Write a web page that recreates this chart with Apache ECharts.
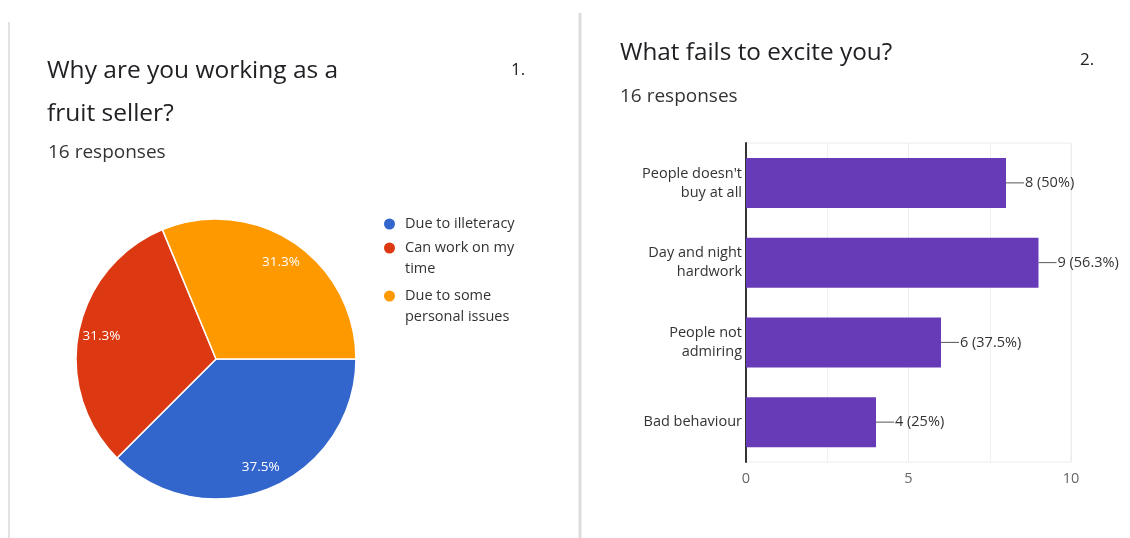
<!DOCTYPE html>
<html>
<head>
<meta charset="utf-8">
<script src="https://cdn.jsdelivr.net/npm/echarts@6/dist/echarts.min.js"></script>
<style>html,body{margin:0;padding:0;background:#fff}#c{width:1130px;height:538px}</style>
</head>
<body>
<div id="c"></div>
<script>
var pieNames = ["Due to illeteracy", "Can work on my time", "Due to some personal issues"];
var pieValues = [6, 5, 5];
var pieColors = ["#3366cc", "#dc3912", "#ff9900"];
var barCategories = ["People doesn't\nbuy at all", "Day and night\nhardwork", "People not\nadmiring", "Bad behaviour"];
var barValues = [8, 9, 6, 4];
var totalResponses = 16;
var xTicks = [0, 5, 10];

var chart = echarts.init(document.getElementById('c'));
var font = '"Open Sans", Roboto, sans-serif';
var pieCenter = [216, 359];
var small = 14.5;

function pct(v) {
  var p = Math.round(v / totalResponses * 1000) / 10;
  return p + '%';
}

function legendFor(i, top, multi) {
  return {
    data: [pieNames[i]],
    orient: 'vertical',
    left: 382,
    top: top,
    padding: 0,
    icon: 'circle',
    itemWidth: 13,
    itemHeight: 13,
    selectedMode: false,
    formatter: function (name) { return multi ? '\n' + name : name; },
    textStyle: { fontSize: small, color: '#333', width: 122, overflow: 'break', lineHeight: 21, fontFamily: font, padding: [0, 0, 0, 4] }
  };
}

var titleStyle = function (size, color, lh) {
  var s = { fontSize: size, fontWeight: 'normal', color: color, fontFamily: font };
  if (lh) s.lineHeight = lh;
  return s;
};

var option = {
  backgroundColor: '#fff',
  textStyle: { fontFamily: font },
  animation: false,
  title: [
    { text: 'Why are you working as a\nfruit seller?', left: 47, top: 50, padding: 0, textStyle: titleStyle(24.5, '#202124', 43) },
    { text: '1.', left: 511, top: 62, padding: 0, textStyle: titleStyle(17, '#202124') },
    { text: '16 responses', left: 48, top: 143, padding: 0, textStyle: titleStyle(19, '#333') },
    { text: 'What fails to excite you?', left: 620, top: 38, padding: 0, textStyle: titleStyle(24.3, '#202124', 30) },
    { text: '2.', left: 1080, top: 52, padding: 0, textStyle: titleStyle(17, '#202124') },
    { text: '16 responses', left: 620, top: 87, padding: 0, textStyle: titleStyle(19, '#333') }
  ],
  graphic: [
    { type: 'line', shape: { x1: 9, y1: 22, x2: 9, y2: 538 }, style: { stroke: '#e2e2e2', lineWidth: 2 } },
    { type: 'line', shape: { x1: 580, y1: 13, x2: 580, y2: 538 }, style: { stroke: '#dcdcdc', lineWidth: 3 } }
  ],
  legend: [
    legendFor(0, 213.5, false),
    legendFor(1, 216.5, true),
    legendFor(2, 264.5, true)
  ],
  grid: {
    left: 746, right: 59, top: 143, bottom: 76,
    show: true, borderColor: '#ececec', borderWidth: 1
  },
  xAxis: {
    type: 'value', min: 0, max: 10, interval: 5,
    axisLine: { show: false },
    axisTick: { show: false },
    axisLabel: { color: '#666', fontSize: small, margin: 9, fontFamily: font, customValues: xTicks },
    splitLine: { lineStyle: { color: '#ececec' } },
    minorTick: { show: false, splitNumber: 2 },
    minorSplitLine: { show: true, lineStyle: { color: '#f0f0f0' } }
  },
  yAxis: {
    type: 'category', data: barCategories, inverse: true,
    axisLine: { show: true, lineStyle: { color: '#333', width: 2 } },
    axisTick: { show: false },
    axisLabel: { color: '#333', fontSize: small, lineHeight: 19, margin: 4, fontFamily: font }
  },
  series: [
    {
      type: 'pie',
      center: pieCenter,
      radius: 140,
      startAngle: 0,
      clockwise: true,
      color: pieColors,
      data: pieNames.map(function (n, i) { return { name: n, value: pieValues[i] }; }),
      itemStyle: { borderColor: '#fff', borderWidth: 1.5 },
      label: { position: 'inside', color: '#fff', fontSize: 13.5, fontFamily: font,
        formatter: function (p) { return p.percent.toFixed(1) + '%'; } },
      labelLayout: function (params) {
        var r = params.labelRect;
        var cx = r.x + r.width / 2, cy = r.y + r.height / 2;
        var k = 1.6;
        return { x: pieCenter[0] + (cx - pieCenter[0]) * k, y: pieCenter[1] + (cy - pieCenter[1]) * k, align: 'center', verticalAlign: 'middle' };
      },
      emphasis: { disabled: true }
    },
    {
      type: 'bar',
      data: barValues,
      barWidth: 50,
      itemStyle: { color: '#673ab7' },
      label: {
        show: true, position: 'right', distance: 0,
        formatter: function (p) { return '{l|}{t|' + p.value + ' (' + pct(p.value) + ')}'; },
        rich: {
          l: { width: 18, height: 1, backgroundColor: '#555' },
          t: { fontSize: small, color: '#333', fontFamily: font, padding: [0, 0, 0, 1] }
        }
      },
      emphasis: { disabled: true }
    }
  ]
};
chart.setOption(option);
</script>
</body>
</html>
